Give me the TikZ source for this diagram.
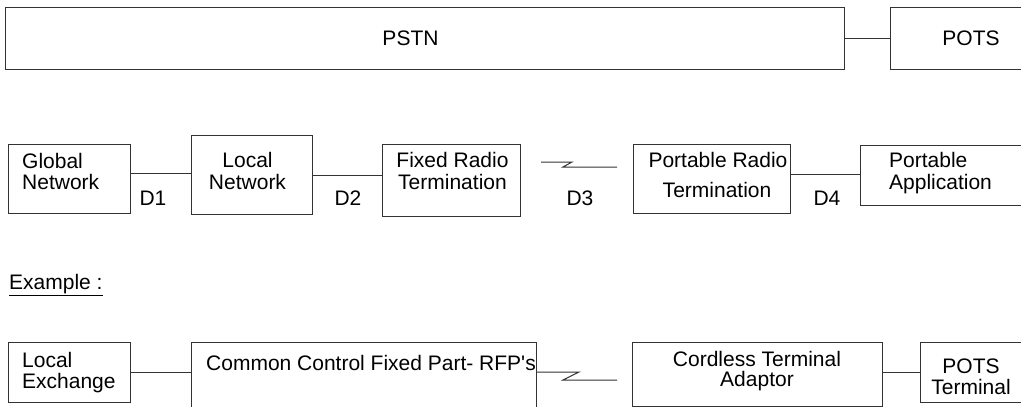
\documentclass[tikz,border=0pt]{standalone}
\usepackage{fontspec}
\setmainfont{Liberation Sans}
\newfontfamily\rawsans{Liberation Sans}[Ligatures=TeXOff]
\definecolor{ln}{gray}{0.2}
\begin{document}
\begin{tikzpicture}[x=1pt,y=-1pt,
  box/.style={draw=ln, line width=1pt, inner sep=0pt, outer sep=0pt, anchor=north west},
  conn/.style={draw=ln, line width=1pt},
  txt/.style={inner sep=0pt, font=\fontsize{21}{21}\selectfont, text=black},
  tc/.style={txt, anchor=base},
  tl/.style={txt, anchor=base west}]
\path[use as bounding box, clip] (0,0) rectangle (1021,407);
\fill[white] (0,0) rectangle (1021,407);
% boxes
\node[box, minimum width=839pt, minimum height=62pt] (pstn) at (5,7) {};
\node[box, minimum width=135pt, minimum height=62pt] (pots) at (890,7) {};
\node[box, minimum width=122pt, minimum height=69pt] (global) at (8,144) {};
\node[box, minimum width=121pt, minimum height=79pt] (local) at (191,135) {};
\node[box, minimum width=138pt, minimum height=72pt] (fixed) at (382,144) {};
\node[box, minimum width=157pt, minimum height=69pt] (prt) at (633,144) {};
\node[box, minimum width=165pt, minimum height=60pt] (papp) at (860,145) {};
\node[box, minimum width=122pt, minimum height=60pt] (locex) at (8,342) {};
\node[box, minimum width=345pt, minimum height=70pt] (common) at (191,342) {};
\node[box, minimum width=250pt, minimum height=64pt] (cta) at (632,342) {};
\node[box, minimum width=105pt, minimum height=60pt] (potst) at (920,342) {};
% texts
\node[tc] (tpstn) at (410.5,45) {PSTN};
\node[tc] (tpots) at (971,45) {POTS};
\node[tl] (tg1) at (22,168) {Global};
\node[tl] (tg2) at (22,189) {Network};
\node[tc] (tl1) at (247.5,167) {Local};
\node[tc] (tl2) at (247.5,189) {Network};
\node[tc] (tf1) at (452.5,167) {Fixed Radio};
\node[tc] (tf2) at (452.5,189) {Termination};
\node[tc] (tp1) at (718,167) {Portable Radio};
\node[tc] (tp2) at (717,197) {Termination};
\node[tl] (ta1) at (889,167) {Portable};
\node[tl] (ta2) at (889,189) {Application};
\node[tc] (d1) at (153,205) {D1};
\node[tc] (d2) at (348,205) {D2};
\node[tc] (d3) at (580,205) {D3};
\node[tc] (d4) at (827,205) {D4};
\node[tl] (ex) at (9,289) {\underline{Example :}};
\node[tl] (te1) at (22,367) {Local};
\node[tl] (te2) at (22,388) {Exchange};
\node[tl] (tcc) at (206,370) {Common Control Fixed Part- RFP{\rawsans '}s};
\node[tc] (tct1) at (757,366) {Cordless Terminal};
\node[tc] (tct2) at (757,386) {Adaptor};
\node[tc] (tpt1) at (971,373) {POTS};
\node[tc] (tpt2) at (971,394) {Terminal};
% connectors
\coordinate (y38) at (0,38);
\coordinate (y173) at (0,173);
\coordinate (y175) at (0,175);
\coordinate (y174) at (0,174);
\coordinate (y372) at (0,372);
\draw[conn] (pstn.east |- y38) -- (pots.west |- y38);
\draw[conn] (global.east |- y173) -- (local.west |- y173);
\draw[conn] (local.east |- y175) -- (fixed.west |- y175);
\draw[conn] (prt.east |- y174) -- (papp.west |- y174);
\draw[conn] (locex.east |- y372) -- (common.west |- y372);
\draw[conn] (cta.east |- y372) -- (potst.west |- y372);
% radio links
\coordinate (za) at (541,162);
\coordinate (zb) at (617,167);
\draw[conn] (za) -- (572,162) -- (563,167) -- (zb);
\coordinate (zc) at (common.east |- y372);
\coordinate (zd) at (617,380);
\draw[conn] (zc) -- (579,372) -- (563,380) -- (zd);
\end{tikzpicture}
\end{document}
